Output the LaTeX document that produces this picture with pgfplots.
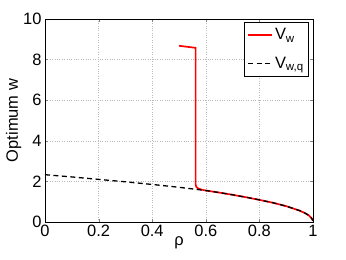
\documentclass[border=0pt]{standalone}
\usepackage{pgfplots}
\pgfplotsset{compat=1.18}
\usepackage{fontspec}
\setmainfont{Liberation Sans}
\newcommand{\fs}{\fontsize{16.5}{19}\selectfont}
\begin{document}
\begin{tikzpicture}
\begin{axis}[
  at={(0,0)}, anchor=south west,
  scale only axis, width=268bp, height=203bp,
  xmin=0, xmax=1, ymin=0, ymax=10,
  xtick={0,0.2,0.4,0.6,0.8,1}, ytick={0,2,4,6,8,10},
  xticklabels={\fs 0,\fs 0.2,\fs 0.4,\fs 0.6,\fs 0.8,\fs 1},
  yticklabels={\fs 0,\fs 2,\fs 4,\fs 6,\fs 8,\fs 10},
  tick align=inside, tick pos=both,
  major tick length=3bp,
  grid=major,
  grid style={dotted, gray!55, line width=0.5pt},
  axis line style={line width=0.5pt},
  xlabel={\fs ρ}, ylabel={\fs Optimum w},
  xlabel style={yshift=7bp},
  ylabel style={yshift=-5bp},
  legend style={at={(0.985,0.985)}, anchor=north east, font=\fs, draw=black, line width=0.5pt, inner xsep=3pt, inner ysep=4pt, row sep=12bp},
  legend cell align=left,
  legend image code/.code={\draw[#1] (0bp,0bp) -- (24bp,0bp);},
]
\addplot[red, line width=1.7pt] coordinates {
(0.5,8.68) (0.562,8.58) (0.562,1.85) (0.565,1.72) (0.572,1.65) (0.585,1.59) (0.6,1.55) (0.65,1.45) (0.7,1.34) (0.75,1.22) (0.8,1.09) (0.85,0.95) (0.9,0.78) (0.93,0.65) (0.95,0.56) (0.97,0.44) (0.985,0.32) (0.995,0.18) (1.0,0.06)
};
\addlegendentry{\fs V\textsubscript{w}}
\addplot[black, line width=1.3pt, dash pattern=on 5pt off 3.5pt] coordinates {
(0,2.33) (0.1,2.22) (0.2,2.1) (0.3,1.98) (0.4,1.85) (0.5,1.71) (0.6,1.55) (0.65,1.45) (0.7,1.34) (0.75,1.22) (0.8,1.09) (0.85,0.95) (0.9,0.78) (0.93,0.65) (0.95,0.56) (0.97,0.44) (0.985,0.32) (0.995,0.18) (1.0,0.06)
};
\addlegendentry{\fs V\textsubscript{w,q}}
\end{axis}
\pgfresetboundingbox
\path (-45bp,-38bp) rectangle (301bp,222bp);
\end{tikzpicture}
\end{document}
